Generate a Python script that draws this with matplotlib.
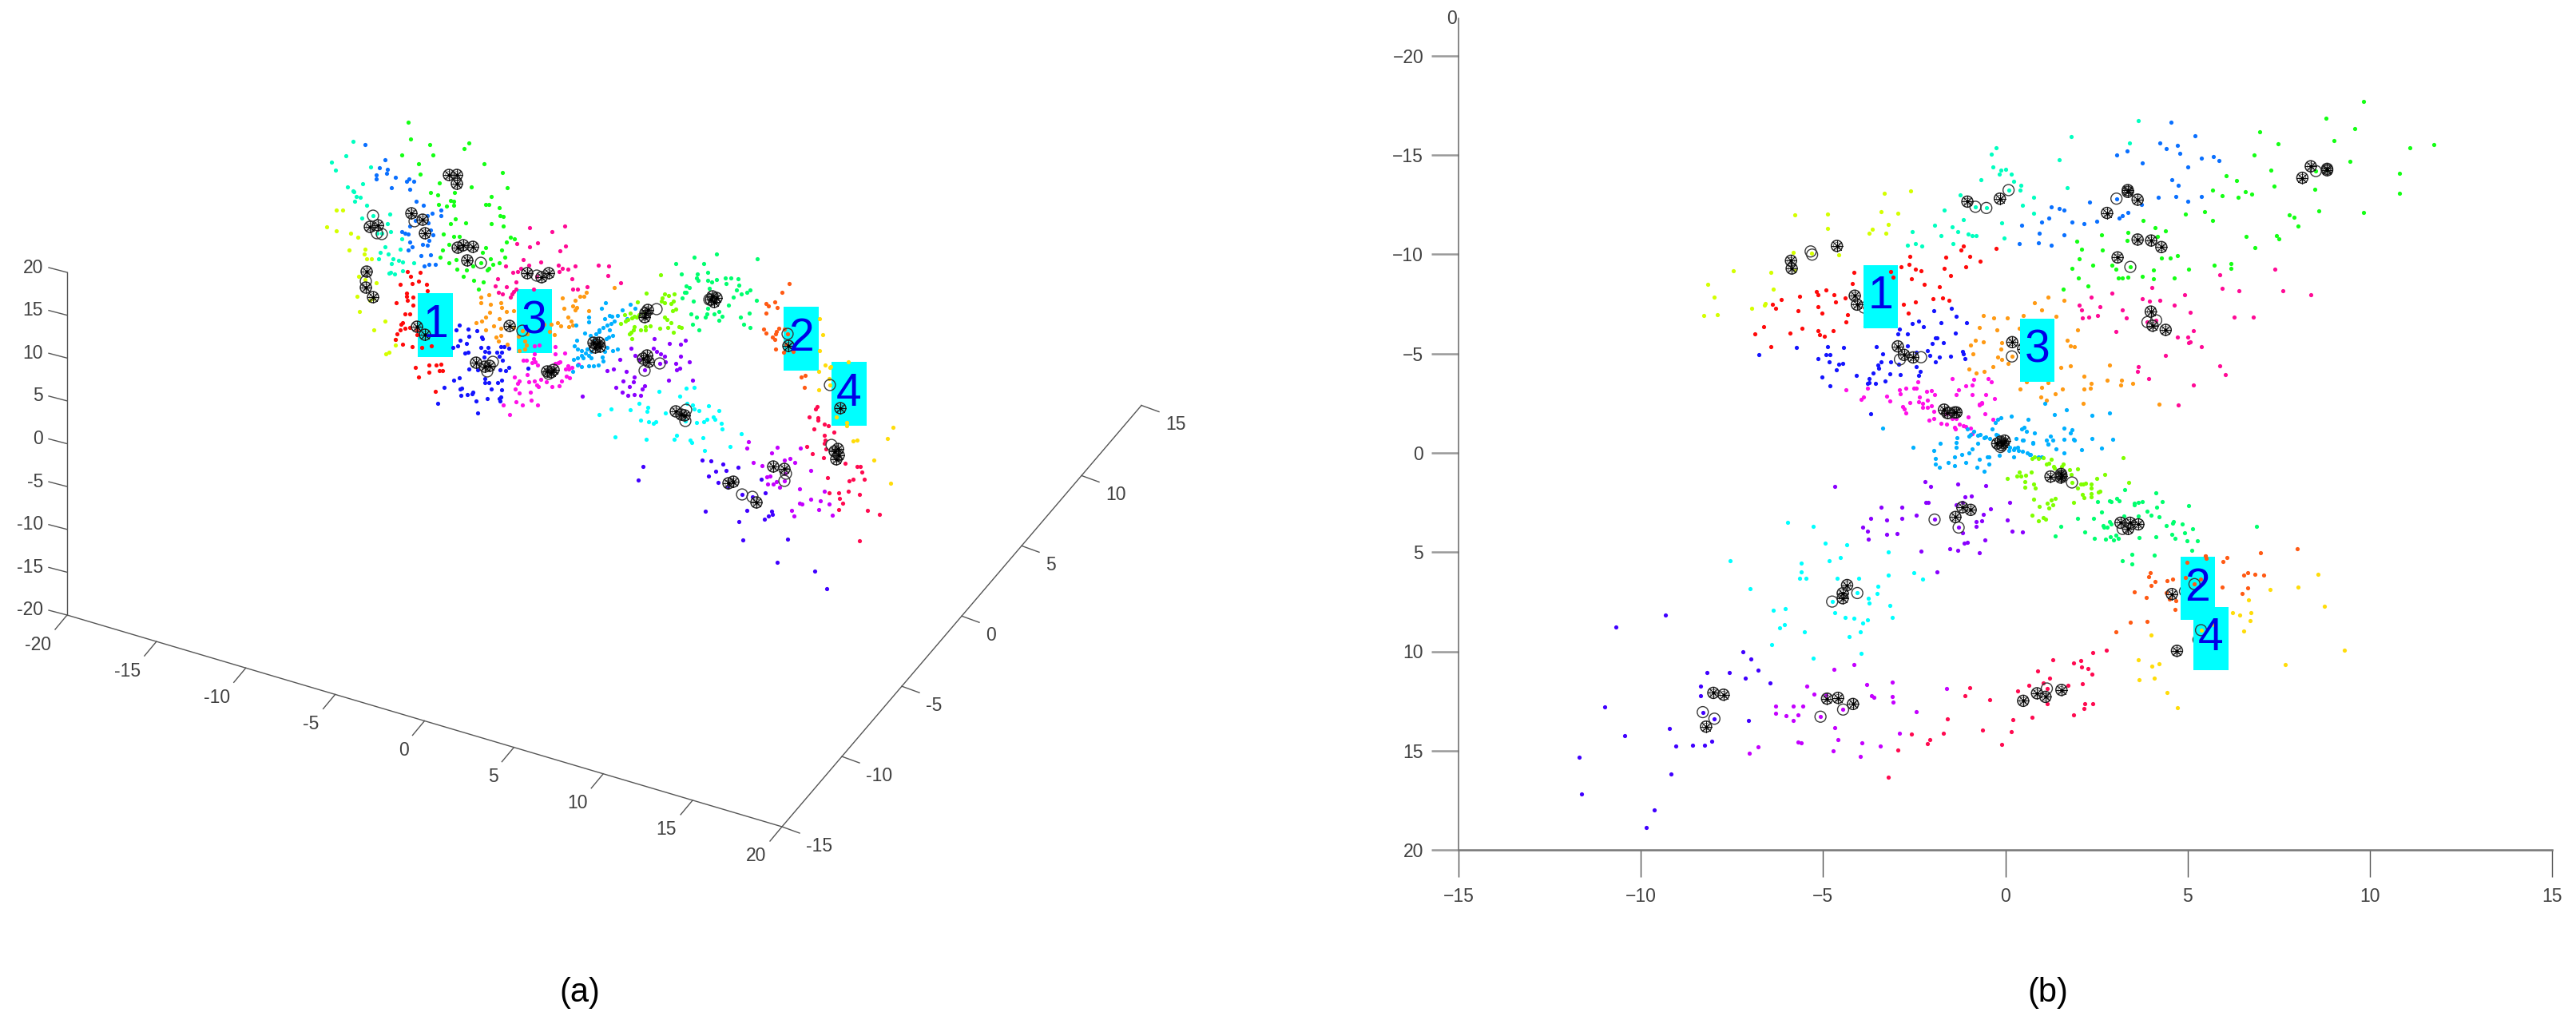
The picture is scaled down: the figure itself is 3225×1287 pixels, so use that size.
import numpy as np
import matplotlib
matplotlib.use("Agg")
import matplotlib.pyplot as plt

plt.rcParams['font.family'] = ['Liberation Sans', 'DejaVu Sans']

W, H = 3225, 1287

# cluster colours
c_red = '#ff0a0a'
c_orange_red = '#ff5a14'
c_orange = '#ff9a14'
c_gold = '#ffdc0a'
c_yellow = '#d4ff00'
c_lawn = '#80ff00'
c_green = '#14ff14'
c_spring = '#00ff6e'
c_turq = '#00ffc0'
c_cyan = '#00ffff'
c_sky = '#00b0ff'
c_azure = '#0a70ff'
c_blue = '#1414ff'
c_indigo = '#4000ff'
c_violet = '#8a00ff'
c_purple = '#c400ff'
c_magenta = '#ff10e8'
c_pink = '#ff0a96'
c_crimson = '#ff0a50'

# ---- panel (b): top view, values in axis units ----
r_red = [(-1.22,-10.44),(-1.28,-10.21),(-0.33,-10.32),(-1.71,-9.87),(-1.05,-9.91),(-0.77,-9.65),(-2.69,-9.91),(-2.70,-9.49),(-2.92,-9.36),(-2.54,-9.26),(-2.38,-9.18),(-1.75,-9.28),(-1.16,-9.36),(-1.57,-8.92),(-3.21,-9.14),(-3.14,-8.86),(-2.65,-8.77),(-4.22,-9.09),(-4.26,-8.55),(-3.90,-8.51),(-2.29,-8.49),(-1.88,-8.38),(-5.25,-8.13),(-4.99,-8.19),(-5.20,-7.95),(-4.77,-7.95),(-5.71,-7.88),(-6.22,-7.72),(-4.46,-7.82),(-4.72,-7.59),(-2.05,-7.78),(-1.79,-7.79),(-1.62,-7.67),(-2.54,-7.59),(-2.87,-7.48),(-6.46,-7.50),(-6.38,-7.30),(-5.20,-7.35),(-5.75,-7.15),(-5.10,-7.04),(-4.39,-6.97),(-3.94,-7.32),(-2.73,-7.03),(-4.44,-6.59),(-3.92,-6.41),(-6.70,-6.35),(-5.64,-6.29),(-6.94,-5.98),(-5.97,-6.04),(-5.20,-6.17),(-4.80,-6.14),(-5.16,-5.94),(-5.03,-5.88),(-6.51,-5.34)]
r_yellow = [(-3.38,-13.09),(-2.66,-13.19),(-5.85,-12.01),(-4.94,-12.05),(-3.48,-12.17),(-3.02,-12.07),(-3.27,-11.51),(-4.95,-11.30),(-3.71,-11.26),(-3.80,-11.07),(-3.34,-11.08),(-5.88,-10.12),(-5.39,-10.05),(-4.64,-9.97),(-5.84,-9.22),(-7.53,-9.16),(-6.50,-9.10),(-8.24,-8.50),(-6.44,-8.26),(-8.05,-7.84),(-6.65,-7.52),(-6.67,-7.46),(-7.03,-7.28),(-7.98,-6.97),(-8.35,-6.91)]
r_turq = [(-0.33,-15.37),(-0.46,-15.06),(-0.40,-14.40),(-0.19,-14.24),(-0.05,-14.28),(-0.24,-14.06),(-0.74,-13.78),(-1.31,-13.01),(-1.75,-12.25),(-1.21,-11.74),(-0.16,-11.57),(-2.02,-11.47),(-1.52,-11.37),(-1.38,-11.14),(-2.62,-11.15),(-1.84,-10.94),(-1.09,-11.03),(-0.97,-10.95),(-0.86,-10.95),(-0.10,-10.84),(-1.50,-10.55),(-2.75,-10.46),(-2.54,-10.54),(-2.37,-10.43),(3.58,-16.75),(1.73,-15.94),(3.33,-15.60),(1.40,-14.75),(0.36,-13.47),(0.34,-13.25),(0.16,-13.68),(0.09,-14.03),(1.62,-13.35),(0.70,-12.88),(0.40,-12.46),(0.70,-12.06),(0.02,-13.24),(-0.89,-12.40),(-0.59,-12.34)]
r_azure = [(4.47,-16.68),(5.14,-15.97),(4.17,-15.61),(4.34,-15.35),(4.65,-15.50),(4.72,-15.10),(2.98,-15.03),(3.28,-15.23),(3.68,-14.60),(4.94,-14.40),(5.30,-14.83),(5.63,-14.93),(5.79,-14.74),(4.50,-13.75),(4.67,-13.47),(4.13,-12.88),(4.60,-12.93),(5.31,-12.92),(4.94,-12.66),(2.25,-12.62),(3.66,-12.52),(1.19,-12.40),(1.41,-12.32),(1.54,-12.24),(3.30,-12.11),(3.15,-11.95),(3.05,-11.82),(2.45,-11.67),(1.12,-11.85),(0.92,-11.61),(1.76,-11.61),(2.08,-11.53),(0.37,-11.47),(0.87,-11.08),(1.55,-10.99),(0.31,-10.54),(0.83,-10.58),(1.18,-10.46),(2.98,-12.81)]
r_green = [(9.76,-17.71),(8.73,-16.85),(9.52,-16.35),(6.90,-16.16),(7.41,-15.56),(8.94,-15.73),(11.69,-15.54),(11.03,-15.37),(6.76,-15.02),(9.39,-14.69),(7.21,-14.26),(10.74,-14.08),(6.0,-13.95),(6.28,-13.71),(7.30,-13.45),(8.43,-13.28),(5.61,-13.25),(5.87,-12.97),(6.32,-12.86),(6.52,-13.16),(6.68,-13.03),(10.74,-13.07),(8.54,-12.20),(9.75,-12.12),(5.40,-12.16),(4.87,-12.03),(5.62,-11.70),(7.73,-11.99),(7.86,-11.89),(7.96,-11.41),(3.70,-11.73),(4.04,-11.35),(4.33,-11.20),(3.30,-11.10),(2.58,-10.98),(3.28,-10.70),(4.10,-10.90),(1.90,-10.68),(6.53,-10.90),(7.38,-10.96),(7.44,-10.80),(2.02,-10.25),(2.59,-10.23),(6.77,-10.36),(1.95,-9.76),(2.32,-9.46),(2.85,-9.46),(2.97,-9.25),(1.77,-9.30),(3.36,-9.37),(4.21,-9.83),(4.46,-9.80),(4.65,-9.92),(4.0,-9.22),(4.95,-9.25),(5.66,-9.46),(6.11,-9.53),(6.11,-9.29),(1.93,-8.81),(3.02,-8.80),(3.14,-8.82),(3.30,-8.84),(3.68,-8.88),(3.99,-8.77),(4.56,-8.81),(2.20,-8.43),(1.51,-8.26),(8.45,-14.20),(8.76,-14.24)]
r_pink = [(7.32,-9.25),(5.81,-8.97),(5.88,-8.29),(6.35,-8.15),(7.55,-8.15),(8.31,-7.97),(3.96,-8.34),(2.86,-8.05),(4.85,-7.98),(2.29,-7.84),(3.68,-7.75),(3.88,-7.64),(4.18,-7.67),(1.96,-7.46),(2.53,-7.35),(2.03,-7.22),(4.57,-7.46),(3.13,-7.20),(5.0,-7.08),(2.04,-6.80),(2.21,-6.84),(2.46,-6.91),(3.24,-6.79),(6.21,-6.83),(6.74,-6.85),(2.97,-6.13),(5.10,-6.17),(4.65,-5.82),(4.93,-5.82),(4.96,-5.54),(5.0,-5.60),(5.31,-5.37),(4.32,-4.90),(5.82,-4.40),(5.96,-3.94),(3.57,-4.34),(3.56,-4.10),(3.86,-3.73),(5.08,-3.43),(4.67,-2.42),(3.83,-6.59),(4.07,-6.68)]
r_orange = [(1.11,-7.86),(0.72,-7.58),(1.54,-7.68),(0.93,-7.19),(-0.68,-6.92),(-0.38,-6.81),(-0.02,-6.80),(0.42,-6.92),(1.33,-6.88),(-0.78,-6.32),(-0.29,-6.21),(0.31,-6.29),(1.91,-6.21),(-0.90,-5.66),(-0.67,-5.60),(-0.17,-5.54),(-1.03,-5.44),(-0.20,-5.25),(1.63,-5.68),(1.71,-5.39),(1.82,-5.34),(-0.96,-4.97),(-0.27,-4.82),(-0.16,-4.70),(0.0,-4.51),(0.11,-4.86),(-0.42,-4.36),(1.45,-4.32),(1.72,-4.38),(2.80,-4.43),(-1.06,-4.23),(-0.87,-4.02),(-0.64,-4.10),(2.08,-3.88),(2.28,-3.49),(2.72,-3.65),(3.11,-3.67),(3.09,-3.44),(3.42,-3.52),(0.50,-3.60),(1.11,-3.55),(0.34,-3.23),(0.93,-3.28),(2.08,-3.23),(2.26,-3.27),(1.49,-3.20),(1.31,-2.97),(0.90,-2.82),(1.05,-2.66),(2.06,-2.48),(4.14,-2.45)]
r_blue = [(-1.56,-7.27),(-2.03,-7.16),(-1.41,-6.88),(-2.63,-6.53),(-2.45,-6.64),(-2.32,-6.35),(-1.84,-6.57),(-1.14,-6.56),(-2.98,-6.25),(-3.02,-6.01),(-2.76,-6.0),(-1.45,-6.04),(-1.99,-5.78),(-1.94,-5.78),(-1.77,-5.54),(-2.08,-5.50),(-3.61,-5.34),(-2.75,-5.39),(-5.80,-5.30),(-4.94,-5.34),(-4.51,-5.30),(-6.84,-4.94),(-5.0,-4.93),(-4.88,-4.93),(-5.20,-4.73),(-3.43,-5.01),(-2.52,-5.07),(-2.21,-5.14),(-2.13,-4.91),(-1.25,-5.10),(-1.23,-4.97),(-1.57,-4.86),(-1.18,-4.75),(-1.87,-4.81),(-1.98,-4.58),(-4.90,-4.59),(-4.63,-4.48),(-4.52,-4.50),(-4.70,-4.20),(-3.47,-4.59),(-3.22,-4.60),(-2.99,-4.47),(-3.57,-4.42),(-3.54,-4.28),(-2.52,-4.34),(-3.70,-4.04),(-2.40,-4.10),(-3.24,-3.98),(-2.95,-3.96),(-2.44,-3.90),(-4.16,-3.92),(-5.09,-3.83),(-3.80,-3.75),(-3.80,-3.56),(-3.85,-3.51),(-3.63,-3.51),(-3.37,-3.64),(-4.88,-3.37),(-3.76,-1.99)]
r_magenta = [(-4.44,-3.17),(-3.84,-3.25),(-3.96,-2.82),(-4.02,-2.68),(-3.32,-2.86),(-3.24,-2.60),(-2.98,-3.19),(-2.95,-2.96),(-2.79,-3.27),(-2.58,-3.24),(-2.51,-3.27),(-2.46,-3.57),(-1.52,-3.73),(-0.94,-3.71),(-0.55,-3.73),(-0.46,-3.57),(-1.16,-3.37),(-0.98,-3.43),(-2.23,-3.11),(-2.09,-3.13),(-2.01,-2.92),(-1.35,-3.16),(-1.41,-2.93),(-0.97,-2.95),(-0.60,-2.93),(-0.36,-2.72),(-2.43,-2.80),(-2.20,-2.64),(-2.68,-2.52),(-2.45,-2.57),(-2.33,-2.50),(-0.72,-2.50),(-0.79,-2.40),(-2.88,-2.34),(-2.84,-2.20),(-2.80,-2.01),(-2.33,-2.29),(-2.20,-2.29),(-2.09,-2.36),(-2.03,-2.09),(-0.63,-1.98),(-0.41,-1.69),(-2.16,-1.67),(-2.03,-1.74),(-1.70,-1.99),(-1.59,-1.98),(-1.52,-1.74),(-1.42,-1.73),(-1.84,-1.48),(-1.69,-1.43),(-1.47,-1.29),(-1.45,-1.21),(-1.33,-1.46),(-1.23,-1.36),(-1.15,-1.33),(-1.03,-1.23),(-0.99,-0.98),(-1.09,-1.81),(-0.78,-2.47),(-0.72,-2.54)]
r_sky = [(-3.43,-1.26),(-2.61,-0.27),(-1.86,-0.50),(-2.04,-0.13),(-1.40,-0.76),(-1.41,-0.52),(-1.41,-0.27),(-1.99,0.27),(-1.98,0.56),(-1.88,0.73),(-1.63,0.49),(-1.47,0.19),(-1.47,0.63),(-1.26,0.09),(-1.16,0.47),(-1.07,0.01),(-0.98,-0.22),(-0.83,-0.47),(-1.07,-0.86),(-1.02,-0.93),(-0.83,-0.89),(-0.77,-0.93),(-0.66,-0.76),(-0.60,-0.79),(-0.50,-0.72),(-0.93,-1.10),(-1.12,-1.19),(-0.44,-1.21),(-0.34,-1.51),(-0.27,-1.69),(-0.18,-1.76),(0.10,-1.87),(0.55,-1.69),(0.38,-1.22),(0.45,-1.29),(0.51,-1.08),(0.74,-1.0),(-0.33,-0.93),(-0.27,-0.90),(0.22,-0.72),(0.69,-0.50),(0.41,-0.65),(1.05,-0.65),(1.10,-0.46),(-0.79,0.34),(-0.84,0.72),(-0.66,0.93),(-0.56,0.19),(-0.52,0.22),(-0.52,0.56),(-0.23,0.11),(0.15,0.22),(0.03,-0.11),(0.05,-0.29),(0.26,-0.29),(0.18,-0.26),(0.16,-0.17),(0.30,-0.14),(0.41,-0.09),(0.53,0.0),(0.61,0.10),(1.28,-1.95),(1.60,-2.17),(2.31,-1.90),(2.80,-2.02),(1.01,-2.49),(1.55,-1.26),(1.77,-1.16),(1.72,-0.99),(1.17,-0.86),(1.11,-0.46),(1.23,-0.63),(1.53,-0.67),(1.80,-0.68),(1.83,-0.66),(2.31,-0.72),(2.88,-0.68),(2.03,-0.16),(2.56,-0.23),(1.33,-0.19),(1.55,0.01),(0.68,-0.51),(0.42,-0.64),(0.59,0.08),(0.85,0.21),(0.92,0.19)]
r_lawn = [(0.66,0.28),(0.74,0.19),(0.85,0.29),(0.96,0.24),(1.05,0.55),(1.12,0.52),(1.19,0.33),(1.25,0.68),(1.28,0.78),(1.52,0.58),(1.47,0.68),(1.69,0.86),(1.91,0.82),(1.74,1.08),(2.65,1.08),(2.43,1.30),(3.16,0.23),(3.31,1.49),(1.99,1.57),(2.07,1.58),(2.14,1.51),(2.28,1.55),(2.28,1.79),(1.91,1.79),(2.53,1.93),(2.49,1.97),(2.04,2.09),(2.28,2.06),(2.09,2.25),(2.28,2.20),(1.81,2.49),(1.31,2.28),(1.19,2.36),(1.09,2.52),(1.23,2.62),(1.12,2.76),(0.71,2.34),(0.86,2.69),(0.66,3.15),(0.97,3.25),(1.04,3.33),(0.84,3.43),(-0.01,1.29),(0.31,0.95),(0.65,0.98),(0.25,1.15),(0.35,1.15),(0.48,1.11),(0.46,1.43),(0.70,1.57),(0.47,1.73),(0.75,1.78),(1.76,1.49)]
r_spring = [(4.05,2.01),(4.23,2.45),(4.97,2.64),(3.47,2.53),(3.47,2.62),(3.58,2.49),(3.69,2.45),(4.08,2.74),(3.20,1.86),(2.47,2.46),(2.80,2.40),(2.84,2.46),(2.98,2.30),(3.06,2.42),(2.56,2.97),(3.82,2.95),(3.92,3.12),(4.15,3.23),(3.58,3.16),(3.18,3.19),(1.92,3.29),(2.36,3.29),(1.45,3.71),(1.31,4.18),(2.11,3.99),(2.38,4.31),(2.68,4.36),(2.91,4.38),(3.04,4.30),(2.82,4.22),(2.97,4.14),(2.62,3.67),(2.63,3.75),(2.73,3.75),(2.80,3.48),(2.83,3.60),(3.61,4.28),(4.07,4.24),(4.34,3.65),(4.54,3.45),(4.51,3.56),(4.79,3.59),(5.07,3.82),(4.50,4.10),(4.58,4.31),(4.84,4.03),(4.91,4.44),(5.21,4.43),(5.04,4.89),(6.82,3.71),(3.41,5.10),(3.14,5.42),(3.41,5.61),(4.01,5.17)]
r_orange_red = [(7.93,4.82),(6.94,5.05),(6.01,5.27),(5.42,5.19),(5.44,5.30),(4.91,5.50),(5.90,5.48),(3.91,6.04),(3.87,6.22),(4.03,6.47),(3.93,6.67),(4.37,6.43),(4.52,6.36),(4.87,6.28),(5.28,6.36),(5.12,6.61),(6.47,6.14),(6.59,6.02),(6.77,6.10),(7.02,6.17),(5.88,6.76),(6.57,6.80),(6.42,7.08),(3.47,7.0),(3.79,7.27),(4.35,7.04),(4.43,7.35),(4.61,7.46),(4.59,7.90),(3.36,8.55),(3.81,8.50),(2.97,9.0)]
r_gold = [(8.52,6.13),(7.96,6.75),(7.20,6.88),(8.69,7.72),(6.61,7.42),(6.17,8.05),(6.37,8.15),(6.66,8.06),(6.64,8.45),(6.47,8.96),(5.64,8.65),(5.17,8.37),(5.30,8.93),(3.94,9.18),(9.23,9.93),(7.60,10.68),(3.58,10.43),(3.96,10.76),(4.15,10.64),(3.60,11.41),(4.01,11.34),(4.36,12.06),(4.66,12.84)]
r_crimson = [(2.70,9.95),(2.32,10.08),(1.23,10.44),(1.80,10.58),(1.99,10.45),(2.02,10.79),(2.20,10.87),(2.30,11.15),(0.82,11.0),(1.15,11.34),(0.97,11.57),(0.58,11.73),(1.64,11.73),(2.04,11.63),(0.27,12.01),(1.07,11.87),(1.07,12.62),(2.10,12.62),(2.32,12.62),(2.08,12.88),(1.80,13.19),(0.66,13.33),(0.13,13.45),(0.09,14.03),(-1.05,11.82),(-1.18,12.24),(-0.50,12.42),(-1.66,13.41),(-0.70,13.97),(-1.76,14.13),(-2.14,14.43),(-2.20,14.63),(-2.64,14.18),(-3.02,14.96),(-0.16,14.69),(-3.28,16.33)]
r_purple = [(-4.22,10.65),(-4.78,10.92),(-3.88,11.69),(-3.16,11.55),(-1.67,11.89),(-5.52,11.76),(-5.31,12.14),(-3.73,12.24),(-3.67,12.32),(-3.16,12.28),(-3.15,12.54),(-4.98,12.20),(-2.52,13.03),(-6.36,12.75),(-6.38,13.13),(-5.88,12.75),(-5.62,12.77),(-5.76,13.19),(-6.09,13.24),(-5.89,13.50),(-5.14,13.29),(-4.52,12.93),(-4.74,13.86),(-2.98,14.12),(-4.66,14.45),(-5.76,14.55),(-5.67,14.62),(-4.01,14.59),(-3.49,14.75),(-4.79,15.01),(-4.04,15.29),(-7.09,15.14),(-6.85,14.81)]
r_indigo = [(-7.27,10.04),(-7.05,10.40),(-6.86,10.96),(-8.26,11.06),(-7.65,11.08),(-7.21,11.36),(-6.52,11.59),(-8.42,11.75),(-8.44,12.24),(-11.07,12.78),(-8.37,13.06),(-8.05,13.39),(-7.12,13.50),(-9.29,13.90),(-10.52,14.26),(-9.11,14.75),(-8.66,14.72),(-8.33,14.72),(-8.12,14.52),(-9.24,16.17),(-9.70,18.0),(-9.91,18.87),(-9.40,8.16),(-10.75,8.78),(-11.77,15.35),(-11.70,17.2)]
r_cyan = [(-6.05,3.52),(-5.33,3.70),(-5.02,4.55),(-4.41,4.63),(-4.60,5.27),(-4.91,5.44),(-3.28,5.01),(-7.62,5.45),(-5.67,5.57),(-5.67,5.98),(-5.71,6.31),(-5.53,6.31),(-4.69,6.31),(-4.09,6.33),(-3.27,6.17),(-2.59,6.05),(-2.34,6.34),(-7.07,6.83),(-3.57,6.73),(-3.59,7.09),(-4.13,7.06),(-3.82,7.33),(-3.80,7.56),(-4.82,7.49),(-3.23,7.70),(-3.18,8.29),(-6.44,7.92),(-6.11,7.85),(-4.75,8.03),(-4.47,8.29),(-4.23,8.31),(-3.85,8.42),(-3.98,8.57),(-6.13,8.65),(-6.27,8.81),(-5.59,9.0),(-4.04,9.0),(-4.36,9.25),(-6.48,9.66),(-4.02,10.10),(-5.34,10.36)]
r_violet = [(-4.74,1.68),(-2.28,1.45),(-2.12,1.69),(-1.38,1.55),(-0.61,1.66),(-1.18,2.21),(-1.0,2.18),(-2.24,2.51),(-2.19,2.48),(-1.42,2.61),(-1.25,2.51),(-2.90,2.73),(-3.48,2.75),(0.06,2.51),(-0.48,2.83),(-2.51,3.13),(-3.77,3.29),(-3.32,3.37),(-2.91,3.31),(-0.67,3.10),(-0.02,3.39),(-0.86,3.46),(-0.71,3.41),(-2.01,3.36),(-1.35,3.76),(-0.88,3.72),(-3.98,3.74),(-3.84,3.96),(-3.32,4.10),(-3.05,4.05),(-3.82,4.33),(-1.24,4.02),(0.12,3.95),(0.41,3.97),(-0.63,4.40),(-1.20,4.53),(-1.10,4.52),(-2.38,4.95),(-1.60,4.82),(-1.38,4.91),(-0.79,5.04),(-1.94,5.98)]

r_spoked = [(-4.2,-7.92),(-4.14,-7.47),(-4.69,-10.43),(-5.95,-9.68),(-5.93,-9.29),(-1.11,-12.66),(-0.22,-12.81),(3.29,-13.15),(3.29,-13.24),(3.56,-12.76),(2.72,-12.09),(8.31,-14.44),(8.76,-14.31),(8.76,-14.24),(8.08,-13.86),(3.56,-10.75),(3.93,-10.70),(4.21,-10.37),(3.01,-9.85),(3.92,-7.12),(3.97,-6.41),(4.33,-6.20),(0.12,-5.58),(0.42,-5.25),(-3.02,-5.37),(-2.85,-4.94),(-2.60,-4.81),(-1.75,-2.18),(-1.66,-2.01),(-1.46,-2.04),(-1.41,-2.04),(-0.29,-0.47),(-0.20,-0.57),(-0.09,-0.62),(-0.17,-0.39),(-0.13,-0.50),(1.17,1.19),(1.46,1.06),(1.45,1.24),(1.47,1.15),(3.09,3.52),(3.35,3.52),(3.58,3.60),(3.30,3.83),(4.50,7.11),(4.64,9.97),(0.80,12.11),(1.03,12.29),(1.47,11.94),(0.42,12.49),(-4.96,12.38),(-4.66,12.34),(-4.25,12.65),(-8.08,12.09),(-7.80,12.18),(-8.28,13.79),(-4.41,6.66),(-4.53,7.07),(-4.53,7.32),(-1.25,2.74),(-1.02,2.87),(-1.44,3.23)]
r_open = [(-3.94,-7.32),(-5.41,-10.15),(-5.37,-9.99),(0.02,-13.24),(-0.89,-12.40),(-0.59,-12.34),(2.98,-12.81),(8.45,-14.20),(3.36,-9.37),(3.83,-6.59),(4.07,-6.68),(0.11,-4.86),(-2.96,-4.71),(-2.38,-4.82),(-1.62,-2.01),(-0.20,-0.30),(1.76,1.49),(3.15,3.83),(4.86,6.97),(5.23,9.41),(1.07,11.87),(-5.14,13.29),(-4.52,12.93),(-8.37,13.06),(-8.05,13.39),(-4.13,7.06),(-4.82,7.49),(-2.01,3.36),(-1.35,3.76)]

# these sit in front of the cyan boxes
r_front_red = [(-3.21,-9.14),(-3.14,-8.86)]
r_front_orange_red = [(4.91,5.50),(5.42,5.19),(5.44,5.30),(4.87,6.28),(5.28,6.36),(5.12,6.61)]
r_front_gold = [(5.64,8.65),(5.30,8.93)]
r_front_open = [(5.12,6.61),(5.30,8.93)]

x_ticks = [-15, -10, -5, 0, 5, 10, 15]
y_ticks = [-20, -15, -10, -5, 0, 5, 10, 15, 20]
x_read_offset = 0.07  # my readings were taken about 3 px left of the real zero

# ---- panel (a): 3d view, values are projected positions ----
l_green = [(511,153),(514,174),(538,181),(587,179),(581,186),(503,194),(542,194),(524,205),(606,205),(526,218),(629,216),(550,229),(590,234),(635,235),(539,241),(548,244),(569,241),(615,246),(564,251),(568,252),(549,256),(559,258),(568,257),(608,256),(612,256),(625,260),(626,270),(630,271),(570,274),(564,280),(583,279),(615,280),(630,283),(555,293),(568,296),(575,296),(639,297),(644,299),(634,303),(562,306),(608,310),(604,316),(554,313),(628,313),(551,322),(632,322),(614,324),(562,329),(571,325),(625,329),(617,331),(612,336),(610,338),(572,337),(584,338),(592,333),(580,346),(593,351),(605,353),(599,362),(602,329)]
l_turq = [(442,177),(433,195),(415,203),(420,213),(464,209),(454,230),(435,234),(442,239),(443,240),(446,246),(451,247),(444,252),(459,257),(488,268),(453,273),(485,280),(489,290),(503,299),(482,309),(501,312),(476,316),(474,324),(486,318),(492,324),(490,330),(499,326),(504,328),(518,329),(489,341),(487,342),(494,343),(504,339),(467,270),(472,292),(478,292)]
l_azure = [(457,181),(482,200),(475,210),(485,212),(484,217),(471,219),(471,224),(495,222),(512,224),(509,227),(518,227),(490,235),(513,237),(521,252),(530,257),(552,263),(552,270),(541,267),(535,270),(520,276),(513,283),(536,279),(503,290),(507,292),(511,293),(539,288),(542,294),(513,303),(529,306),(537,301),(516,309),(511,313),(535,307),(527,320),(539,319),(531,333),(537,331),(545,331)]
l_yellow = [(421,263),(429,263),(409,284),(421,289),(439,292),(448,297),(437,313),(457,312),(456,318),(459,324),(465,324),(449,346),(457,350),(471,354),(447,371),(463,376),(467,374),(450,390),(482,402),(468,413),(495,425),(495,432),(487,441),(483,443)]
l_red = [(510,340),(526,341),(514,346),(516,355),(524,352),(501,356),(534,356),(535,364),(509,367),(509,371),(517,372),(510,376),(496,379),(517,382),(507,393),(513,393),(504,404),(502,406),(501,413),(507,411),(513,410),(522,413),(497,418),(522,419),(495,425),(504,431),(516,434),(528,435),(540,433),(520,460),(537,457),(546,457),(552,456),(537,466),(550,464),(554,464),(524,472),(545,490)]
l_orange = [(602,372),(612,369),(602,379),(614,381),(627,379),(628,385),(643,389),(634,390),(613,391),(608,397),(603,402),(596,404),(625,399),(618,408),(608,413),(627,411),(643,410),(621,422),(627,420),(624,427),(635,431),(649,421),(654,414),(657,427),(660,418),(659,432),(657,437),(650,439),(675,413),(681,406),(688,415),(690,406),(694,419),(698,404),(702,408),(712,409),(717,407),(711,397),(715,402),(706,386),(717,383),(722,385),(720,388),(737,389),(720,376),(704,373),(726,371),(731,371),(734,366),(769,360)]
l_pink = [(663,285),(707,283),(691,290),(647,305),(673,304),(663,309),(708,308),(701,314),(655,325),(662,332),(677,328),(633,333),(652,336),(648,340),(642,341),(699,332),(704,336),(700,340),(711,337),(720,333),(749,332),(762,333),(761,345),(716,349),(777,354),(623,349),(646,353),(620,358),(634,359),(646,362),(624,366),(629,368),(643,365),(641,368),(639,372),(668,362),(717,362),(723,362),(735,359),(672,346)]
l_blue = [(575,407),(586,412),(571,413),(597,414),(587,421),(603,422),(604,424),(576,426),(573,433),(584,430),(567,435),(602,435),(611,435),(627,434),(631,434),(637,436),(607,440),(612,441),(622,441),(582,442),(586,441),(606,447),(628,441),(625,446),(629,451),(637,460),(633,464),(587,462),(598,463),(626,463),(575,473),(568,476),(607,474),(607,479),(612,479),(623,479),(628,476),(556,485),(576,487),(578,486),(615,487),(628,488),(592,491),(591,493),(577,495),(585,494),(610,499),(627,497),(625,499),(626,502),(596,502),(661,461),(598,517),(548,505)]
l_magenta = [(655,451),(659,451),(669,443),(668,449),(666,454),(673,457),(670,453),(695,434),(669,433),(675,432),(695,443),(707,442),(701,453),(699,454),(695,455),(711,458),(716,460),(724,456),(708,462),(712,462),(709,471),(713,473),(644,472),(660,469),(650,477),(648,480),(645,487),(662,478),(669,477),(672,482),(677,475),(674,484),(684,478),(691,484),(703,477),(700,483),(650,492),(664,491),(646,503),(665,501),(654,507),(673,507),(630,507),(638,519)]
l_sky = [(758,379),(753,386),(737,397),(737,403),(721,407),(763,395),(757,399),(766,396),(773,395),(779,388),(789,381),(795,386),(785,399),(732,417),(739,420),(746,418),(750,413),(760,407),(765,405),(769,402),(763,413),(767,420),(762,422),(759,424),(722,426),(719,433),(723,437),(728,439),(733,442),(737,445),(740,440),(730,448),(723,448),(718,450),(740,448),(754,447),(755,452),(749,457),(743,458),(737,458),(728,459),(723,457),(717,465),(767,439),(773,437),(757,440),(760,435),(728,445),(735,437),(744,425),(750,415),(755,410)]
l_lawn = [(827,344),(809,367),(798,378),(782,394),(777,405),(783,402),(791,398),(797,397),(789,392),(829,373),(832,368),(837,370),(844,368),(828,377),(832,379),(843,377),(840,380),(846,387),(842,389),(832,397),(835,400),(840,404),(826,411),(836,410),(850,409),(853,410),(843,416),(790,416),(794,409),(793,413),(802,413),(808,413),(814,408),(808,409),(791,424),(786,400),(794,396),(800,394),(805,391),(788,418)]
l_spring = [(869,322),(897,318),(948,324),(846,330),(881,330),(886,341),(853,343),(873,343),(872,348),(874,351),(886,351),(891,353),(897,350),(908,348),(915,348),(924,349),(909,355),(925,357),(859,358),(863,360),(922,363),(939,363),(935,366),(928,368),(859,366),(857,366),(854,373),(918,372),(947,376),(868,377),(888,361),(865,393),(872,397),(883,397),(885,393),(894,393),(904,396),(900,401),(912,382),(900,390),(886,386),(867,406),(875,413),(927,397),(938,392),(931,406),(939,410)]
l_orange_red = [(988,355),(979,366),(959,380),(962,383),(970,378),(973,385),(959,392),(956,412),(959,417),(975,411),(972,415),(971,418),(967,422),(970,425),(982,412),(986,418),(984,431),(993,440),(971,437),(981,441),(1003,472),(1008,470),(1007,485)]
l_gold = [(1026,399),(1030,419),(1026,439),(1033,457),(1040,459),(1025,465),(1039,460),(1062,453),(1039,482),(1025,488),(1038,474),(1047,522),(1060,529),(1060,533),(1068,552),(1073,551),(1118,535),(1111,549),(1094,576),(1115,605)]
l_crimson = [(1023,509),(1021,512),(1013,522),(1024,523),(1024,526),(1032,531),(1037,533),(1019,537),(1044,541),(1032,545),(1033,551),(1032,555),(1034,562),(1010,559),(1017,568),(1031,573),(1058,580),(1073,584),(1077,584),(1079,591),(1082,600),(1068,600),(1063,602),(1036,598),(1062,615),(1050,617),(1038,617),(1076,619),(1051,624),(1055,630),(1050,638),(1086,639),(1101,644),(1076,677)]
l_purple = [(937,553),(935,561),(973,560),(966,567),(1002,561),(989,574),(982,576),(995,579),(943,579),(954,583),(1015,589),(983,593),(960,597),(964,596),(972,603),(968,606),(961,606),(976,610),(982,602),(1001,612),(1032,615),(1015,625),(1027,627),(1001,630),(1004,631),(1038,631),(991,639),(1025,638),(1042,645),(994,646)]
l_indigo = [(879,576),(890,577),(905,581),(887,596),(896,590),(909,589),(924,585),(805,584),(799,601),(899,604),(953,600),(958,617),(929,619),(942,622),(935,639),(883,640),(925,653),(957,650),(962,646),(967,644),(966,640),(930,676),(986,675),(973,704),(1020,715),(1035,737),(911,610)]
l_cyan = [(825,490),(859,486),(869,485),(851,496),(800,505),(765,512),(789,513),(811,510),(810,515),(750,519),(833,517),(860,505),(867,507),(869,512),(875,514),(887,508),(900,514),(893,522),(895,525),(885,525),(881,528),(872,529),(903,530),(802,526),(812,528),(818,530),(821,528),(904,537),(770,547),(809,550),(847,545),(844,550),(880,548),(928,543),(864,551),(866,554),(914,559),(882,564),(858,527)]
l_violet = [(819,424),(858,426),(838,430),(852,431),(790,436),(818,436),(822,440),(852,446),(795,445),(832,446),(827,443),(776,450),(863,453),(846,455),(847,463),(851,461),(833,453),(760,464),(768,462),(784,465),(794,472),(780,477),(793,478),(837,476),(867,476),(771,485),(788,484),(807,483),(804,487),(779,491),(794,494),(786,495),(802,495),(729,496),(826,455),(807,463),(800,450)]

l_spoked = [(562,219),(572,219),(572,230),(573,310),(580,307),(592,309),(585,326),(463,284),(473,282),(515,267),(529,275),(532,292),(459,340),(458,360),(467,372),(522,409),(532,419),(638,408),(660,342),(687,342),(678,347),(596,454),(607,459),(613,458),(693,463),(685,465),(690,466),(743,429),(750,429),(745,435),(751,434),(747,431),(811,388),(807,397),(808,392),(892,371),(897,373),(894,378),(890,375),(987,433),(1052,511),(1049,562),(1045,565),(1050,570),(1047,575),(968,584),(982,587),(912,605),(918,603),(947,629),(846,515),(853,519),(857,520),(810,445),(805,449),(812,453)]
l_open = [(602,329),(467,270),(472,292),(478,293),(519,277),(458,352),(654,414),(672,345),(617,453),(610,465),(687,468),(822,387),(888,375),(986,418),(1039,482),(1041,557),(984,593),(982,602),(929,619),(942,622),(859,513),(858,527),(826,455),(807,464)]

z_labels = [20, 15, 10, 5, 0, -5, -10, -15, -20]
x3_labels = [-20, -15, -10, -5, 0, 5, 10, 15, 20]
y3_labels = [-15, -10, -5, 0, 5, 10, 15]

# (text, x, y of the box centre) in each panel
l_boxes = [('1', 545, 407), ('3', 669, 402), ('2', 1003, 424), ('4', 1063, 493)]
r_boxes = [('1', 2354.5, 371.5), ('3', 2550.5, 438.5), ('2', 2751.5, 736.5), ('4', 2768, 799.5)]

axis_grey = '#555555'
text_grey = '#404040'
ring_grey = '#2a2a2a'
tick_font = 16.5
dot_size = 14


def pairs(points, dx=0.0):
    arr = np.array(points, dtype=float)
    return arr[:, 0] + dx, arr[:, 1]


def draw_rings(ax, spoked, opened, dx=0.0, z=2.5):
    if len(opened):
        x, y = pairs(opened, dx)
        ax.scatter(x, y, s=100, facecolors='none', edgecolors='#3a3a3a', linewidths=1.0, zorder=z)
    if len(spoked):
        x, y = pairs(spoked, dx)
        ax.scatter(x, y, s=100, facecolors='none', edgecolors=ring_grey, linewidths=1.15, zorder=z)
        ax.scatter(x, y, s=38, facecolors='none', edgecolors='#555555', linewidths=0.6, zorder=z)
        ax.scatter(x, y, s=100, marker=(8, 2, 0), c='#111111', linewidths=0.6, zorder=z)
        ax.scatter(x, y, s=10, c='black', linewidths=0, zorder=z)


fig = plt.figure(figsize=(W / 100, H / 100), dpi=100, facecolor='white')

# panel (a)
ax_l = fig.add_axes([0, 0, 0.5, 1])
ax_l.set_xlim(0, W / 2)
ax_l.set_ylim(H, 0)
ax_l.axis('off')

left_series = [(l_green, c_green), (l_turq, c_turq), (l_azure, c_azure), (l_yellow, c_yellow), (l_red, c_red),
               (l_orange, c_orange), (l_pink, c_pink), (l_blue, c_blue), (l_magenta, c_magenta), (l_sky, c_sky),
               (l_lawn, c_lawn), (l_spring, c_spring), (l_orange_red, c_orange_red), (l_gold, c_gold),
               (l_crimson, c_crimson), (l_purple, c_purple), (l_indigo, c_indigo), (l_cyan, c_cyan), (l_violet, c_violet)]
for points, colour in left_series:
    x, y = pairs(points)
    ax_l.scatter(x, y, s=dot_size, c=colour, linewidths=0, zorder=2)
draw_rings(ax_l, l_spoked, l_open)

for text, cx, cy in l_boxes:
    ax_l.add_patch(plt.Rectangle((cx - 22, cy - 40), 44, 80, fc='#00ffff', ec='none', zorder=1))
    ax_l.text(cx, cy, text, color='#0000e6', fontsize=41, ha='center', va='center', zorder=5)

# 3d box lines, z axis on the left then the two floor axes
z_base = np.linspace(341, 770, len(z_labels))
ax_l.plot([84, 84], [z_base[0], z_base[-1]], color=axis_grey, lw=1)
for lab, yb in zip(z_labels, z_base):
    ax_l.plot([61, 84], [yb - 6, yb], color=axis_grey, lw=1)
    ax_l.text(54, yb - 6, str(lab), color=text_grey, fontsize=tick_font, ha='right', va='center')

fx = np.linspace(84, 979, len(x3_labels))
fy = np.linspace(770, 1035, len(x3_labels))
ax_l.plot([fx[0], fx[-1]], [fy[0], fy[-1]], color=axis_grey, lw=1)
for lab, xb, yb in zip(x3_labels, fx, fy):
    ax_l.plot([xb, xb - 15], [yb, yb + 18], color=axis_grey, lw=1)
    ax_l.text(xb - 20, yb + 37, str(lab), color=text_grey, fontsize=tick_font, ha='right', va='center')

gx = np.linspace(979, 1429, len(y3_labels))
gy = np.linspace(1035, 507.5, len(y3_labels))
ax_l.plot([gx[0], gx[-1]], [gy[0], gy[-1]], color=axis_grey, lw=1)
for lab, xb, yb in zip(y3_labels, gx, gy):
    ax_l.plot([xb, xb + 22], [yb, yb + 8], color=axis_grey, lw=1)
    ax_l.text(xb + 30, yb + 24, str(lab), color=text_grey, fontsize=tick_font, ha='left', va='center')

# panel (b)
left_px, right_px = 1826, 3195
top_px, bottom_px = 23, 1064
ax_r = fig.add_axes([left_px / W, 1 - bottom_px / H, (right_px - left_px) / W, (bottom_px - top_px) / H])
ax_r.set_xlim(-15, 15)
ax_r.set_ylim(20, 20 - (bottom_px - top_px) / 24.85)
ax_r.patch.set_alpha(0)
for side in ['top', 'right']:
    ax_r.spines[side].set_visible(False)
ax_r.spines['left'].set_color('#666666')
ax_r.spines['left'].set_linewidth(1.1)
ax_r.spines['bottom'].set_color('#777777')
ax_r.spines['bottom'].set_linewidth(1.8)
ax_r.set_xticks(x_ticks)
ax_r.set_yticks(y_ticks)
ax_r.tick_params(axis='x', length=24.5, width=1, color=axis_grey, labelcolor=text_grey, labelsize=tick_font, pad=9)
ax_r.tick_params(axis='y', length=24.5, width=1.8, color='#999999', labelcolor=text_grey, labelsize=tick_font, pad=7)
ax_r.text(-15.05, ax_r.get_ylim()[1], '0', color=text_grey, fontsize=tick_font, ha='right', va='center')

right_series = [(r_red, c_red), (r_yellow, c_yellow), (r_turq, c_turq), (r_azure, c_azure), (r_green, c_green),
                (r_pink, c_pink), (r_orange, c_orange), (r_blue, c_blue), (r_magenta, c_magenta), (r_sky, c_sky),
                (r_lawn, c_lawn), (r_spring, c_spring), (r_orange_red, c_orange_red), (r_gold, c_gold),
                (r_crimson, c_crimson), (r_purple, c_purple), (r_indigo, c_indigo), (r_cyan, c_cyan), (r_violet, c_violet)]
for points, colour in right_series:
    x, y = pairs(points, x_read_offset)
    ax_r.scatter(x, y, s=dot_size, c=colour, linewidths=0, zorder=2)
draw_rings(ax_r, r_spoked, r_open, x_read_offset)

# front layer above the boxes
for points, colour in [(r_front_red, c_red), (r_front_orange_red, c_orange_red), (r_front_gold, c_gold)]:
    x, y = pairs(points, x_read_offset)
    ax_r.scatter(x, y, s=dot_size, c=colour, linewidths=0, zorder=4)
draw_rings(ax_r, [], r_front_open, x_read_offset, z=4)

# boxes on the whole figure, placed by panel position
ax_f = fig.add_axes([0, 0, 1, 1])
ax_f.set_xlim(0, W)
ax_f.set_ylim(H, 0)
ax_f.axis('off')
ax_f.patch.set_alpha(0)
ax_f.set_zorder(ax_r.get_zorder() - 1)
ax_r.set_zorder(3)
for i, (text, cx, cy) in enumerate(r_boxes):
    x_data = (cx - left_px) / (right_px - left_px) * 30 - 15
    y_data = 20 - (bottom_px - cy) / 24.85
    ax_r.add_patch(plt.Rectangle((x_data - 21.5 / 45.63, y_data - 39.5 / 24.85), 43 / 45.63, 79 / 24.85,
                                 fc='#00ffff', ec='none', zorder=3 + i * 0.01))
    ax_r.text(x_data, y_data, text, color='#0000e6', fontsize=41, ha='center', va='center', zorder=5)

ax_f.text(726, 1243, '(a)', color='black', fontsize=30, ha='center', va='center')
ax_f.text(2564, 1243, '(b)', color='black', fontsize=30, ha='center', va='center')

fig.savefig('out.png', dpi=100, facecolor='white')
plt.close(fig)
